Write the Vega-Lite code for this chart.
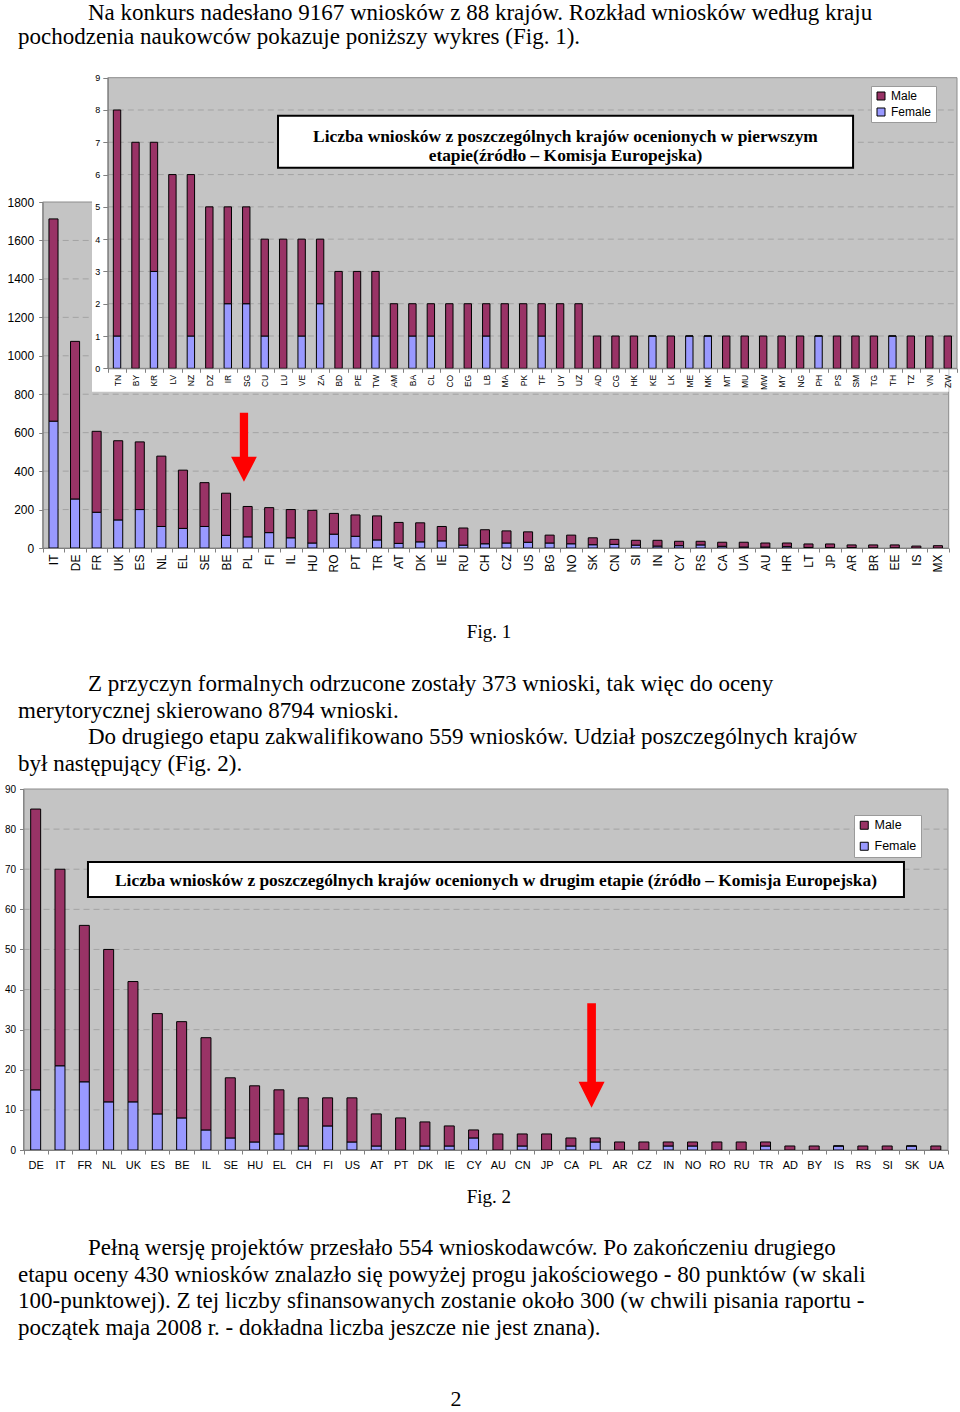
{
  "$schema": "https://vega.github.io/schema/vega-lite/v6.json",
  "width": 960,
  "height": 1412,
  "autosize": {"type": "none"},
  "padding": 0,
  "background": "white",
  "config": {
    "view": {"stroke": null},
    "axis": {"labelFont": "Liberation Sans", "labelColor": "black", "domainColor": "#808080", "tickColor": "#808080", "grid": false}
  },
  "datasets": {
    "s1": [
      {"c": "IT", "t": 1712, "f": 660}, {"c": "DE", "t": 1075, "f": 255}, {"c": "FR", "t": 607, "f": 186},
      {"c": "UK", "t": 558, "f": 146}, {"c": "ES", "t": 552, "f": 200}, {"c": "NL", "t": 478, "f": 112},
      {"c": "EL", "t": 405, "f": 102}, {"c": "SE", "t": 340, "f": 112}, {"c": "BE", "t": 285, "f": 66},
      {"c": "PL", "t": 216, "f": 58}, {"c": "FI", "t": 210, "f": 80}, {"c": "IL", "t": 200, "f": 53},
      {"c": "HU", "t": 196, "f": 26}, {"c": "RO", "t": 180, "f": 72}, {"c": "PT", "t": 172, "f": 61},
      {"c": "TR", "t": 167, "f": 42}, {"c": "AT", "t": 133, "f": 24}, {"c": "DK", "t": 131, "f": 32},
      {"c": "IE", "t": 112, "f": 37}, {"c": "RU", "t": 104, "f": 15}, {"c": "CH", "t": 95, "f": 22},
      {"c": "CZ", "t": 89, "f": 26}, {"c": "US", "t": 84, "f": 30}, {"c": "BG", "t": 67, "f": 26},
      {"c": "NO", "t": 67, "f": 22}, {"c": "SK", "t": 53, "f": 17}, {"c": "CN", "t": 45, "f": 19},
      {"c": "SI", "t": 40, "f": 15}, {"c": "IN", "t": 40, "f": 10}, {"c": "CY", "t": 35, "f": 12},
      {"c": "RS", "t": 35, "f": 16}, {"c": "CA", "t": 30, "f": 9}, {"c": "UA", "t": 30, "f": 5},
      {"c": "AU", "t": 26, "f": 5}, {"c": "HR", "t": 26, "f": 7}, {"c": "LT", "t": 21, "f": 3},
      {"c": "JP", "t": 21, "f": 2}, {"c": "AR", "t": 16, "f": 2}, {"c": "BR", "t": 16, "f": 1},
      {"c": "EE", "t": 16, "f": 1}, {"c": "IS", "t": 10, "f": 0}, {"c": "MX", "t": 12, "f": 0}
    ],
    "s1b": [
      {"c": "TN", "t": 8, "f": 1}, {"c": "BY", "t": 7, "f": 0}, {"c": "KR", "t": 7, "f": 3}, {"c": "LV", "t": 6, "f": 0},
      {"c": "NZ", "t": 6, "f": 1}, {"c": "DZ", "t": 5, "f": 0}, {"c": "IR", "t": 5, "f": 2}, {"c": "SG", "t": 5, "f": 2},
      {"c": "CU", "t": 4, "f": 1}, {"c": "LU", "t": 4, "f": 0}, {"c": "VE", "t": 4, "f": 1}, {"c": "ZA", "t": 4, "f": 2},
      {"c": "BD", "t": 3, "f": 0}, {"c": "PE", "t": 3, "f": 0}, {"c": "TW", "t": 3, "f": 1}, {"c": "AM", "t": 2, "f": 0},
      {"c": "BA", "t": 2, "f": 1}, {"c": "CL", "t": 2, "f": 1}, {"c": "CO", "t": 2, "f": 0}, {"c": "EG", "t": 2, "f": 0},
      {"c": "LB", "t": 2, "f": 1}, {"c": "MA", "t": 2, "f": 0}, {"c": "PK", "t": 2, "f": 0}, {"c": "TF", "t": 2, "f": 1},
      {"c": "UY", "t": 2, "f": 0}, {"c": "UZ", "t": 2, "f": 0}, {"c": "AD", "t": 1, "f": 0}, {"c": "CG", "t": 1, "f": 0},
      {"c": "HK", "t": 1, "f": 0}, {"c": "KE", "t": 1, "f": 1}, {"c": "LK", "t": 1, "f": 0}, {"c": "ME", "t": 1, "f": 1},
      {"c": "MK", "t": 1, "f": 1}, {"c": "MT", "t": 1, "f": 0}, {"c": "MU", "t": 1, "f": 0}, {"c": "MW", "t": 1, "f": 0},
      {"c": "MY", "t": 1, "f": 0}, {"c": "NG", "t": 1, "f": 0}, {"c": "PH", "t": 1, "f": 1}, {"c": "PS", "t": 1, "f": 0},
      {"c": "SM", "t": 1, "f": 0}, {"c": "TG", "t": 1, "f": 0}, {"c": "TH", "t": 1, "f": 1}, {"c": "TZ", "t": 1, "f": 0},
      {"c": "VN", "t": 1, "f": 0}, {"c": "ZW", "t": 1, "f": 0}
    ],
    "s2": [
      {"c": "DE", "t": 85, "f": 15}, {"c": "IT", "t": 70, "f": 21}, {"c": "FR", "t": 56, "f": 17}, {"c": "NL", "t": 50, "f": 12},
      {"c": "UK", "t": 42, "f": 12}, {"c": "ES", "t": 34, "f": 9}, {"c": "BE", "t": 32, "f": 8}, {"c": "IL", "t": 28, "f": 5},
      {"c": "SE", "t": 18, "f": 3}, {"c": "HU", "t": 16, "f": 2}, {"c": "EL", "t": 15, "f": 4}, {"c": "CH", "t": 13, "f": 1},
      {"c": "FI", "t": 13, "f": 6}, {"c": "US", "t": 13, "f": 2}, {"c": "AT", "t": 9, "f": 1}, {"c": "PT", "t": 8, "f": 0},
      {"c": "DK", "t": 7, "f": 1}, {"c": "IE", "t": 6, "f": 1}, {"c": "CY", "t": 5, "f": 3}, {"c": "AU", "t": 4, "f": 0},
      {"c": "CN", "t": 4, "f": 1}, {"c": "JP", "t": 4, "f": 0}, {"c": "CA", "t": 3, "f": 1}, {"c": "PL", "t": 3, "f": 2},
      {"c": "AR", "t": 2, "f": 0}, {"c": "CZ", "t": 2, "f": 0}, {"c": "IN", "t": 2, "f": 1}, {"c": "NO", "t": 2, "f": 1},
      {"c": "RO", "t": 2, "f": 0}, {"c": "RU", "t": 2, "f": 0}, {"c": "TR", "t": 2, "f": 1}, {"c": "AD", "t": 1, "f": 0},
      {"c": "BY", "t": 1, "f": 0}, {"c": "IS", "t": 1, "f": 1}, {"c": "RS", "t": 1, "f": 0}, {"c": "SI", "t": 1, "f": 0},
      {"c": "SK", "t": 1, "f": 1}, {"c": "UA", "t": 1, "f": 0}
    ],
    "lines": [
      {"ln": 1, "ind": 1, "text": "Na konkurs nadesłano 9167 wniosków z 88 krajów. Rozkład wniosków według kraju"},
      {"ln": 2, "ind": 0, "text": "pochodzenia naukowców pokazuje poniższy wykres (Fig. 1)."},
      {"ln": 4, "ind": 1, "text": "Z przyczyn formalnych odrzucone zostały 373 wnioski, tak więc do oceny"},
      {"ln": 5, "ind": 0, "text": "merytorycznej skierowano 8794 wnioski."},
      {"ln": 6, "ind": 1, "text": "Do drugiego etapu zakwalifikowano 559 wniosków. Udział poszczególnych krajów"},
      {"ln": 7, "ind": 0, "text": "był następujący (Fig. 2)."},
      {"ln": 9, "ind": 1, "text": "Pełną wersję projektów przesłało 554 wnioskodawców. Po zakończeniu drugiego"},
      {"ln": 10, "ind": 0, "text": "etapu oceny 430 wniosków znalazło się powyżej progu jakościowego - 80 punktów (w skali"},
      {"ln": 11, "ind": 0, "text": "100-punktowej). Z tej liczby sfinansowanych zostanie około 300 (w chwili pisania raportu -"},
      {"ln": 12, "ind": 0, "text": "początek maja 2008 r. - dokładna liczba jeszcze nie jest znana)."}
    ]
  },
  "resolve": {
    "scale": {"x": "independent", "y": "independent", "color": "independent"},
    "axis": {"x": "independent", "y": "independent"},
    "legend": {"color": "independent"}
  },
  "layer": [
    {
      "data": {"values": [{}]},
      "mark": {"type": "rect", "fill": "#c4c4c4", "stroke": "#8c8c8c", "strokeWidth": 1},
      "encoding": {
        "x": {"datum": "IT", "bandPosition": 0, "scale": {"type": "band", "domain": ["IT","DE","FR","UK","ES","NL","EL","SE","BE","PL","FI","IL","HU","RO","PT","TR","AT","DK","IE","RU","CH","CZ","US","BG","NO","SK","CN","SI","IN","CY","RS","CA","UA","AU","HR","LT","JP","AR","BR","EE","IS","MX"], "range": [42.7, 948.7], "paddingInner": 0, "paddingOuter": 0}, "axis": null},
        "x2": {"datum": "MX", "bandPosition": 1},
        "y": {"datum": 0, "scale": {"domain": [0, 1800], "range": [548, 202], "nice": false, "zero": false}, "axis": null},
        "y2": {"datum": 1800}
      }
    },
    {
      "data": {"values": [{"v": 200}, {"v": 400}, {"v": 600}, {"v": 800}, {"v": 1000}, {"v": 1200}, {"v": 1400}, {"v": 1600}]},
      "mark": {"type": "rule", "color": "#a3a3a3", "strokeDash": [6, 4], "strokeWidth": 1},
      "encoding": {
        "x": {"datum": "IT", "bandPosition": 0, "scale": {"type": "band", "domain": ["IT","DE","FR","UK","ES","NL","EL","SE","BE","PL","FI","IL","HU","RO","PT","TR","AT","DK","IE","RU","CH","CZ","US","BG","NO","SK","CN","SI","IN","CY","RS","CA","UA","AU","HR","LT","JP","AR","BR","EE","IS","MX"], "range": [42.7, 948.7], "paddingInner": 0, "paddingOuter": 0}, "axis": null},
        "x2": {"datum": "MX", "bandPosition": 1},
        "y": {"field": "v", "type": "quantitative", "scale": {"domain": [0, 1800], "range": [548, 202], "nice": false, "zero": false}, "axis": null}
      }
    },
    {
      "data": {"name": "s1"},
      "mark": {"type": "bar", "width": {"band": 0.42}, "stroke": "black", "strokeWidth": 1},
      "encoding": {
        "x": {
          "field": "c", "type": "nominal",
          "scale": {"type": "band", "domain": ["IT","DE","FR","UK","ES","NL","EL","SE","BE","PL","FI","IL","HU","RO","PT","TR","AT","DK","IE","RU","CH","CZ","US","BG","NO","SK","CN","SI","IN","CY","RS","CA","UA","AU","HR","LT","JP","AR","BR","EE","IS","MX"], "range": [42.7, 948.7], "paddingInner": 0, "paddingOuter": 0},
          "axis": {"orient": "bottom", "offset": -864, "title": null, "labelAngle": -90, "labelAlign": "right", "labelBaseline": "middle", "labelFontSize": 12, "tickBand": "extent", "tickSize": 4, "labelPadding": 2, "zindex": 1}
        },
        "y": {
          "field": "f", "type": "quantitative", "stack": null,
          "scale": {"domain": [0, 1800], "range": [548, 202], "nice": false, "zero": false},
          "axis": {"orient": "left", "offset": -42.7, "title": null, "format": "d", "values": [0,200,400,600,800,1000,1200,1400,1600,1800], "labelFontSize": 12, "tickSize": 4, "labelPadding": 5, "zindex": 1}
        },
        "color": {
          "datum": "Female",
          "scale": {"domain": ["Male", "Female"], "range": ["#993366", "#9999FF"]},
          "legend": {"orient": "none", "legendX": 871, "legendY": 86, "title": null, "fillColor": "white", "strokeColor": "#9a9a9a", "padding": 4, "symbolType": "square", "symbolSize": 64, "symbolStrokeColor": "black", "symbolStrokeWidth": 1, "labelFont": "Liberation Sans", "labelFontSize": 12, "labelColor": "black", "rowPadding": 4, "labelOffset": 4, "zindex": 1}
        }
      }
    },
    {
      "data": {"name": "s1"},
      "mark": {"type": "bar", "width": {"band": 0.42}, "stroke": "black", "strokeWidth": 1},
      "encoding": {
        "x": {"field": "c", "type": "nominal", "scale": {"type": "band", "domain": ["IT","DE","FR","UK","ES","NL","EL","SE","BE","PL","FI","IL","HU","RO","PT","TR","AT","DK","IE","RU","CH","CZ","US","BG","NO","SK","CN","SI","IN","CY","RS","CA","UA","AU","HR","LT","JP","AR","BR","EE","IS","MX"], "range": [42.7, 948.7], "paddingInner": 0, "paddingOuter": 0}, "axis": null},
        "y": {"field": "t", "type": "quantitative", "scale": {"domain": [0, 1800], "range": [548, 202], "nice": false, "zero": false}, "axis": null},
        "y2": {"field": "f"},
        "color": {"datum": "Male", "scale": {"domain": ["Male", "Female"], "range": ["#993366", "#9999FF"]}, "legend": null}
      }
    },
    {
      "data": {"values": [{}]},
      "mark": {"type": "rect", "fill": "white", "strokeWidth": 0},
      "encoding": {
        "x": {"datum": "FR", "bandPosition": 0.285, "scale": {"type": "band", "domain": ["IT","DE","FR","UK","ES","NL","EL","SE","BE","PL","FI","IL","HU","RO","PT","TR","AT","DK","IE","RU","CH","CZ","US","BG","NO","SK","CN","SI","IN","CY","RS","CA","UA","AU","HR","LT","JP","AR","BR","EE","IS","MX"], "range": [42.7, 948.7], "paddingInner": 0, "paddingOuter": 0}, "axis": null},
        "x2": {"datum": "MX", "bandPosition": 1},
        "y": {"datum": 2513, "scale": {"domain": [0, 1800], "range": [548, 202], "nice": false, "zero": false}, "axis": null},
        "y2": {"datum": 813}
      }
    },
    {
      "data": {"values": [{}]},
      "mark": {"type": "point", "shape": "M-0.12,-1L0.12,-1L0.12,0.275L0.373,0.275L0,1L-0.373,0.275L-0.12,0.275Z", "size": 4761, "filled": true, "fill": "#ff0000", "fillOpacity": 1, "strokeWidth": 0},
      "encoding": {
        "x": {"datum": "PL", "bandPosition": 0.33, "scale": {"type": "band", "domain": ["IT","DE","FR","UK","ES","NL","EL","SE","BE","PL","FI","IL","HU","RO","PT","TR","AT","DK","IE","RU","CH","CZ","US","BG","NO","SK","CN","SI","IN","CY","RS","CA","UA","AU","HR","LT","JP","AR","BR","EE","IS","MX"], "range": [42.7, 948.7], "paddingInner": 0, "paddingOuter": 0}, "axis": null},
        "y": {"datum": 524, "scale": {"domain": [0, 1800], "range": [548, 202], "nice": false, "zero": false}, "axis": null}
      }
    },
    {
      "data": {"values": [{}]},
      "mark": {"type": "text", "text": "Fig. 1", "font": "Liberation Serif", "fontSize": 19, "align": "center", "baseline": "alphabetic", "color": "black"},
      "encoding": {
        "x": {"datum": "CH", "bandPosition": 0.69, "scale": {"type": "band", "domain": ["IT","DE","FR","UK","ES","NL","EL","SE","BE","PL","FI","IL","HU","RO","PT","TR","AT","DK","IE","RU","CH","CZ","US","BG","NO","SK","CN","SI","IN","CY","RS","CA","UA","AU","HR","LT","JP","AR","BR","EE","IS","MX"], "range": [42.7, 948.7], "paddingInner": 0, "paddingOuter": 0}, "axis": null},
        "y": {"datum": -468, "scale": {"domain": [0, 1800], "range": [548, 202], "nice": false, "zero": false}, "axis": null}
      }
    },
    {
      "data": {"values": [{}]},
      "mark": {"type": "rect", "fill": "#c4c4c4", "stroke": "#8c8c8c", "strokeWidth": 1},
      "encoding": {
        "x": {"datum": "TN", "bandPosition": 0, "scale": {"type": "band", "domain": ["TN","BY","KR","LV","NZ","DZ","IR","SG","CU","LU","VE","ZA","BD","PE","TW","AM","BA","CL","CO","EG","LB","MA","PK","TF","UY","UZ","AD","CG","HK","KE","LK","ME","MK","MT","MU","MW","MY","NG","PH","PS","SM","TG","TH","TZ","VN","ZW"], "range": [107.8, 957], "paddingInner": 0, "paddingOuter": 0}, "axis": null},
        "x2": {"datum": "ZW", "bandPosition": 1},
        "y": {"datum": 0, "scale": {"domain": [0, 9], "range": [368.3, 77.7], "nice": false, "zero": false}, "axis": null},
        "y2": {"datum": 9}
      }
    },
    {
      "data": {"values": [{"v": 1}, {"v": 2}, {"v": 3}, {"v": 4}, {"v": 5}, {"v": 6}, {"v": 7}, {"v": 8}]},
      "mark": {"type": "rule", "color": "#a3a3a3", "strokeDash": [6, 4], "strokeWidth": 1},
      "encoding": {
        "x": {"datum": "TN", "bandPosition": 0, "scale": {"type": "band", "domain": ["TN","BY","KR","LV","NZ","DZ","IR","SG","CU","LU","VE","ZA","BD","PE","TW","AM","BA","CL","CO","EG","LB","MA","PK","TF","UY","UZ","AD","CG","HK","KE","LK","ME","MK","MT","MU","MW","MY","NG","PH","PS","SM","TG","TH","TZ","VN","ZW"], "range": [107.8, 957], "paddingInner": 0, "paddingOuter": 0}, "axis": null},
        "x2": {"datum": "ZW", "bandPosition": 1},
        "y": {"field": "v", "type": "quantitative", "scale": {"domain": [0, 9], "range": [368.3, 77.7], "nice": false, "zero": false}, "axis": null}
      }
    },
    {
      "data": {"name": "s1b"},
      "mark": {"type": "bar", "width": {"band": 0.4}, "stroke": "black", "strokeWidth": 1},
      "encoding": {
        "x": {
          "field": "c", "type": "nominal",
          "scale": {"type": "band", "domain": ["TN","BY","KR","LV","NZ","DZ","IR","SG","CU","LU","VE","ZA","BD","PE","TW","AM","BA","CL","CO","EG","LB","MA","PK","TF","UY","UZ","AD","CG","HK","KE","LK","ME","MK","MT","MU","MW","MY","NG","PH","PS","SM","TG","TH","TZ","VN","ZW"], "range": [107.8, 957], "paddingInner": 0, "paddingOuter": 0},
          "axis": {"orient": "bottom", "offset": -1043.7, "title": null, "labelAngle": -90, "labelAlign": "right", "labelBaseline": "middle", "labelFontSize": 8.5, "tickBand": "extent", "tickSize": 4, "labelPadding": 2, "zindex": 1}
        },
        "y": {
          "field": "f", "type": "quantitative", "stack": null,
          "scale": {"domain": [0, 9], "range": [368.3, 77.7], "nice": false, "zero": false},
          "axis": {"orient": "left", "offset": -107.8, "title": null, "values": [0,1,2,3,4,5,6,7,8,9], "labelFontSize": 9, "tickSize": 5, "labelPadding": 3, "zindex": 1}
        },
        "color": {"datum": "Female", "scale": {"domain": ["Male", "Female"], "range": ["#993366", "#9999FF"]}, "legend": null}
      }
    },
    {
      "data": {"name": "s1b"},
      "mark": {"type": "bar", "width": {"band": 0.4}, "stroke": "black", "strokeWidth": 1},
      "encoding": {
        "x": {"field": "c", "type": "nominal", "scale": {"type": "band", "domain": ["TN","BY","KR","LV","NZ","DZ","IR","SG","CU","LU","VE","ZA","BD","PE","TW","AM","BA","CL","CO","EG","LB","MA","PK","TF","UY","UZ","AD","CG","HK","KE","LK","ME","MK","MT","MU","MW","MY","NG","PH","PS","SM","TG","TH","TZ","VN","ZW"], "range": [107.8, 957], "paddingInner": 0, "paddingOuter": 0}, "axis": null},
        "y": {"field": "t", "type": "quantitative", "scale": {"domain": [0, 9], "range": [368.3, 77.7], "nice": false, "zero": false}, "axis": null},
        "y2": {"field": "f"},
        "color": {"datum": "Male", "scale": {"domain": ["Male", "Female"], "range": ["#993366", "#9999FF"]}, "legend": null}
      }
    },
    {
      "data": {"values": [{}]},
      "mark": {"type": "rect", "fill": "white", "stroke": "black", "strokeWidth": 2},
      "encoding": {
        "x": {"datum": "LU", "bandPosition": 0.22, "scale": {"type": "band", "domain": ["TN","BY","KR","LV","NZ","DZ","IR","SG","CU","LU","VE","ZA","BD","PE","TW","AM","BA","CL","CO","EG","LB","MA","PK","TF","UY","UZ","AD","CG","HK","KE","LK","ME","MK","MT","MU","MW","MY","NG","PH","PS","SM","TG","TH","TZ","VN","ZW"], "range": [107.8, 957], "paddingInner": 0, "paddingOuter": 0}, "axis": null},
        "x2": {"datum": "SM", "bandPosition": 0.37},
        "y": {"datum": 7.82, "scale": {"domain": [0, 9], "range": [368.3, 77.7], "nice": false, "zero": false}, "axis": null},
        "y2": {"datum": 6.21}
      }
    },
    {
      "data": {"values": [{}]},
      "mark": {"type": "text", "text": "Liczba wniosków z poszczególnych krajów ocenionych w pierwszym", "font": "Liberation Serif", "fontWeight": "bold", "fontSize": 17.4, "align": "center", "baseline": "alphabetic", "color": "black"},
      "encoding": {
        "x": {"datum": "UY", "bandPosition": 0.79, "scale": {"type": "band", "domain": ["TN","BY","KR","LV","NZ","DZ","IR","SG","CU","LU","VE","ZA","BD","PE","TW","AM","BA","CL","CO","EG","LB","MA","PK","TF","UY","UZ","AD","CG","HK","KE","LK","ME","MK","MT","MU","MW","MY","NG","PH","PS","SM","TG","TH","TZ","VN","ZW"], "range": [107.8, 957], "paddingInner": 0, "paddingOuter": 0}, "axis": null},
        "y": {"datum": 7.02, "scale": {"domain": [0, 9], "range": [368.3, 77.7], "nice": false, "zero": false}, "axis": null}
      }
    },
    {
      "data": {"values": [{}]},
      "mark": {"type": "text", "text": "etapie(źródło – Komisja Europejska)", "font": "Liberation Serif", "fontWeight": "bold", "fontSize": 17.4, "align": "center", "baseline": "alphabetic", "color": "black"},
      "encoding": {
        "x": {"datum": "UY", "bandPosition": 0.79, "scale": {"type": "band", "domain": ["TN","BY","KR","LV","NZ","DZ","IR","SG","CU","LU","VE","ZA","BD","PE","TW","AM","BA","CL","CO","EG","LB","MA","PK","TF","UY","UZ","AD","CG","HK","KE","LK","ME","MK","MT","MU","MW","MY","NG","PH","PS","SM","TG","TH","TZ","VN","ZW"], "range": [107.8, 957], "paddingInner": 0, "paddingOuter": 0}, "axis": null},
        "y": {"datum": 6.41, "scale": {"domain": [0, 9], "range": [368.3, 77.7], "nice": false, "zero": false}, "axis": null}
      }
    },
    {
      "data": {"values": [{}]},
      "mark": {"type": "rect", "fill": "#c4c4c4", "stroke": "#8c8c8c", "strokeWidth": 1},
      "encoding": {
        "x": {"datum": "DE", "bandPosition": 0, "scale": {"type": "band", "domain": ["DE","IT","FR","NL","UK","ES","BE","IL","SE","HU","EL","CH","FI","US","AT","PT","DK","IE","CY","AU","CN","JP","CA","PL","AR","CZ","IN","NO","RO","RU","TR","AD","BY","IS","RS","SI","SK","UA"], "range": [23.5, 948], "paddingInner": 0, "paddingOuter": 0}, "axis": null},
        "x2": {"datum": "UA", "bandPosition": 1},
        "y": {"datum": 0, "scale": {"domain": [0, 90], "range": [1150, 789], "nice": false, "zero": false}, "axis": null},
        "y2": {"datum": 90}
      }
    },
    {
      "data": {"values": [{"v": 10}, {"v": 20}, {"v": 30}, {"v": 40}, {"v": 50}, {"v": 60}, {"v": 70}, {"v": 80}]},
      "mark": {"type": "rule", "color": "#a3a3a3", "strokeDash": [6, 4], "strokeWidth": 1},
      "encoding": {
        "x": {"datum": "DE", "bandPosition": 0, "scale": {"type": "band", "domain": ["DE","IT","FR","NL","UK","ES","BE","IL","SE","HU","EL","CH","FI","US","AT","PT","DK","IE","CY","AU","CN","JP","CA","PL","AR","CZ","IN","NO","RO","RU","TR","AD","BY","IS","RS","SI","SK","UA"], "range": [23.5, 948], "paddingInner": 0, "paddingOuter": 0}, "axis": null},
        "x2": {"datum": "UA", "bandPosition": 1},
        "y": {"field": "v", "type": "quantitative", "scale": {"domain": [0, 90], "range": [1150, 789], "nice": false, "zero": false}, "axis": null}
      }
    },
    {
      "data": {"name": "s2"},
      "mark": {"type": "bar", "width": {"band": 0.41}, "stroke": "black", "strokeWidth": 1},
      "encoding": {
        "x": {
          "field": "c", "type": "nominal",
          "scale": {"type": "band", "domain": ["DE","IT","FR","NL","UK","ES","BE","IL","SE","HU","EL","CH","FI","US","AT","PT","DK","IE","CY","AU","CN","JP","CA","PL","AR","CZ","IN","NO","RO","RU","TR","AD","BY","IS","RS","SI","SK","UA"], "range": [23.5, 948], "paddingInner": 0, "paddingOuter": 0},
          "axis": {"orient": "bottom", "offset": -262, "title": null, "labelAngle": 0, "labelFontSize": 11, "tickBand": "extent", "tickSize": 4, "labelPadding": 5, "zindex": 1}
        },
        "y": {
          "field": "f", "type": "quantitative", "stack": null,
          "scale": {"domain": [0, 90], "range": [1150, 789], "nice": false, "zero": false},
          "axis": {"orient": "left", "offset": -23.5, "title": null, "values": [0,10,20,30,40,50,60,70,80,90], "labelFontSize": 10, "tickSize": 4, "labelPadding": 4, "zindex": 1}
        },
        "color": {
          "datum": "Female",
          "scale": {"domain": ["Male", "Female"], "range": ["#993366", "#9999FF"]},
          "legend": {"orient": "none", "legendX": 854, "legendY": 815, "title": null, "fillColor": "white", "strokeColor": "#9a9a9a", "padding": 4, "symbolType": "square", "symbolSize": 64, "symbolStrokeColor": "black", "symbolStrokeWidth": 1, "labelFont": "Liberation Sans", "labelFontSize": 12.5, "labelColor": "black", "rowPadding": 8, "labelOffset": 4, "zindex": 1}
        }
      }
    },
    {
      "data": {"name": "s2"},
      "mark": {"type": "bar", "width": {"band": 0.41}, "stroke": "black", "strokeWidth": 1},
      "encoding": {
        "x": {"field": "c", "type": "nominal", "scale": {"type": "band", "domain": ["DE","IT","FR","NL","UK","ES","BE","IL","SE","HU","EL","CH","FI","US","AT","PT","DK","IE","CY","AU","CN","JP","CA","PL","AR","CZ","IN","NO","RO","RU","TR","AD","BY","IS","RS","SI","SK","UA"], "range": [23.5, 948], "paddingInner": 0, "paddingOuter": 0}, "axis": null},
        "y": {"field": "t", "type": "quantitative", "scale": {"domain": [0, 90], "range": [1150, 789], "nice": false, "zero": false}, "axis": null},
        "y2": {"field": "f"},
        "color": {"datum": "Male", "scale": {"domain": ["Male", "Female"], "range": ["#993366", "#9999FF"]}, "legend": null}
      }
    },
    {
      "data": {"values": [{}]},
      "mark": {"type": "rect", "fill": "white", "stroke": "black", "strokeWidth": 2},
      "encoding": {
        "x": {"datum": "FR", "bandPosition": 0.65, "scale": {"type": "band", "domain": ["DE","IT","FR","NL","UK","ES","BE","IL","SE","HU","EL","CH","FI","US","AT","PT","DK","IE","CY","AU","CN","JP","CA","PL","AR","CZ","IN","NO","RO","RU","TR","AD","BY","IS","RS","SI","SK","UA"], "range": [23.5, 948], "paddingInner": 0, "paddingOuter": 0}, "axis": null},
        "x2": {"datum": "SK", "bandPosition": 0.19},
        "y": {"datum": 71.8, "scale": {"domain": [0, 90], "range": [1150, 789], "nice": false, "zero": false}, "axis": null},
        "y2": {"datum": 63.08}
      }
    },
    {
      "data": {"values": [{}]},
      "mark": {"type": "text", "text": "Liczba wniosków z poszczególnych krajów ocenionych w drugim etapie (źródło – Komisja Europejska)", "font": "Liberation Serif", "fontWeight": "bold", "fontSize": 17.4, "align": "center", "baseline": "alphabetic", "color": "black"},
      "encoding": {
        "x": {"datum": "AU", "bandPosition": 0.42, "scale": {"type": "band", "domain": ["DE","IT","FR","NL","UK","ES","BE","IL","SE","HU","EL","CH","FI","US","AT","PT","DK","IE","CY","AU","CN","JP","CA","PL","AR","CZ","IN","NO","RO","RU","TR","AD","BY","IS","RS","SI","SK","UA"], "range": [23.5, 948], "paddingInner": 0, "paddingOuter": 0}, "axis": null},
        "y": {"datum": 65.7, "scale": {"domain": [0, 90], "range": [1150, 789], "nice": false, "zero": false}, "axis": null}
      }
    },
    {
      "data": {"values": [{}]},
      "mark": {"type": "point", "shape": "M-0.083,-1L0.083,-1L0.083,0.502L0.249,0.502L0,1L-0.249,0.502L-0.083,0.502Z", "size": 10899, "filled": true, "fill": "#ff0000", "fillOpacity": 1, "strokeWidth": 0},
      "encoding": {
        "x": {"datum": "PL", "bandPosition": 0.35, "scale": {"type": "band", "domain": ["DE","IT","FR","NL","UK","ES","BE","IL","SE","HU","EL","CH","FI","US","AT","PT","DK","IE","CY","AU","CN","JP","CA","PL","AR","CZ","IN","NO","RO","RU","TR","AD","BY","IS","RS","SI","SK","UA"], "range": [23.5, 948], "paddingInner": 0, "paddingOuter": 0}, "axis": null},
        "y": {"datum": 23.56, "scale": {"domain": [0, 90], "range": [1150, 789], "nice": false, "zero": false}, "axis": null}
      }
    },
    {
      "data": {"values": [{}]},
      "mark": {"type": "text", "text": "Fig. 2", "font": "Liberation Serif", "fontSize": 19, "align": "center", "baseline": "alphabetic", "color": "black"},
      "encoding": {
        "x": {"datum": "AU", "bandPosition": 0.13, "scale": {"type": "band", "domain": ["DE","IT","FR","NL","UK","ES","BE","IL","SE","HU","EL","CH","FI","US","AT","PT","DK","IE","CY","AU","CN","JP","CA","PL","AR","CZ","IN","NO","RO","RU","TR","AD","BY","IS","RS","SI","SK","UA"], "range": [23.5, 948], "paddingInner": 0, "paddingOuter": 0}, "axis": null},
        "y": {"datum": -13.2, "scale": {"domain": [0, 90], "range": [1150, 789], "nice": false, "zero": false}, "axis": null}
      }
    },
    {
      "data": {"values": [{}]},
      "mark": {"type": "text", "text": "2", "font": "Liberation Serif", "fontSize": 22, "align": "center", "baseline": "alphabetic", "color": "black"},
      "encoding": {
        "x": {"datum": "IE", "bandPosition": 0.78, "scale": {"type": "band", "domain": ["DE","IT","FR","NL","UK","ES","BE","IL","SE","HU","EL","CH","FI","US","AT","PT","DK","IE","CY","AU","CN","JP","CA","PL","AR","CZ","IN","NO","RO","RU","TR","AD","BY","IS","RS","SI","SK","UA"], "range": [23.5, 948], "paddingInner": 0, "paddingOuter": 0}, "axis": null},
        "y": {"datum": -63.8, "scale": {"domain": [0, 90], "range": [1150, 789], "nice": false, "zero": false}, "axis": null}
      }
    },
    {
      "data": {"name": "lines"},
      "mark": {"type": "text", "font": "Liberation Serif", "fontSize": 23, "align": "left", "baseline": "alphabetic", "color": "black"},
      "encoding": {
        "x": {"field": "ind", "type": "quantitative", "scale": {"domain": [0, 1], "range": [18, 88]}, "axis": null},
        "y": {"field": "ln", "type": "quantitative", "scale": {"domain": [1, 2, 4, 7, 9, 12], "range": [20, 43.5, 691, 771, 1255, 1335]}, "axis": null},
        "text": {"field": "text"}
      }
    }
  ]
}
